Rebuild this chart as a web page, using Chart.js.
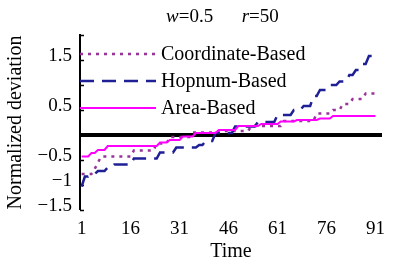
<!DOCTYPE html>
<html>
<head>
<meta charset="utf-8">
<script src="https://cdn.jsdelivr.net/npm/chart.js@4.4.1/dist/chart.umd.min.js"></script>
<style>
  html, body { margin: 0; padding: 0; background: #fff; }
</style>
</head>
<body>
<canvas id="chart" width="393" height="264"></canvas>
<script>
// ---- Data ----------------------------------------------------------------

const SERIES_LABELS = ['Coordinate-Based', 'Hopnum-Based', 'Area-Based'];

// one value per time step 1..91
const COORDINATE = [
  -0.78, -0.78, -0.78, -0.78, -0.68, -0.55, -0.43, -0.43, -0.43, -0.43,
  -0.43, -0.43, -0.43, -0.43, -0.43, -0.43, -0.31, -0.31, -0.31, -0.31,
  -0.31, -0.31, -0.31, -0.17, -0.17, -0.17, -0.17, -0.04, -0.04, -0.04,
  -0.04, -0.04, -0.04, -0.04, 0.05, 0.05, 0.05, 0.05, 0.05, 0.05,
  0.05, 0.05, 0.05, 0.05, 0.08, 0.08, 0.08, 0.08, 0.08, 0.08,
  0.08, 0.08, 0.18, 0.18, 0.18, 0.18, 0.18, 0.18, 0.18, 0.18,
  0.18, 0.18, 0.28, 0.28, 0.28, 0.28, 0.28, 0.28, 0.28, 0.28,
  0.28, 0.28, 0.43, 0.43, 0.43, 0.43, 0.43, 0.50, 0.50, 0.50,
  0.62, 0.62, 0.62, 0.72, 0.72, 0.72, 0.72, 0.83, 0.83, 0.83,
  0.83,
];

const HOPNUM = [
  -1.03, -0.83, -0.83, -0.78, -0.78, -0.72, -0.72, -0.72, -0.65, -0.65,
  -0.59, -0.59, -0.59, -0.59, -0.59, -0.59, -0.47, -0.47, -0.47, -0.47,
  -0.47, -0.47, -0.47, -0.47, -0.35, -0.35, -0.35, -0.35, -0.35, -0.25,
  -0.25, -0.25, -0.25, -0.25, -0.25, -0.25, -0.20, -0.20, -0.12, -0.12,
  -0.12, 0.04, 0.04, 0.04, 0.04, 0.04, 0.04, 0.17, 0.17, 0.17,
  0.17, 0.17, 0.17, 0.17, 0.26, 0.26, 0.26, 0.26, 0.26, 0.26,
  0.40, 0.40, 0.40, 0.40, 0.40, 0.50, 0.50, 0.50, 0.58, 0.58,
  0.58, 0.78, 0.78, 0.90, 0.90, 0.90, 1.00, 1.00, 1.00, 1.07,
  1.07, 1.07, 1.20, 1.20, 1.30, 1.30, 1.42, 1.42, 1.58, 1.58,
  1.58,
];

const AREA = [
  -0.43, -0.43, -0.43, -0.36, -0.36, -0.30, -0.30, -0.30, -0.22, -0.22,
  -0.22, -0.22, -0.22, -0.22, -0.22, -0.22, -0.22, -0.22, -0.22, -0.22,
  -0.22, -0.22, -0.22, -0.22, -0.15, -0.15, -0.15, -0.10, -0.10, -0.10,
  -0.10, -0.03, -0.03, -0.03, -0.03, 0.04, 0.04, 0.04, 0.04, 0.04,
  0.04, 0.04, 0.10, 0.10, 0.10, 0.10, 0.10, 0.10, 0.18, 0.18,
  0.18, 0.18, 0.18, 0.18, 0.18, 0.22, 0.22, 0.22, 0.22, 0.22,
  0.22, 0.27, 0.27, 0.27, 0.27, 0.27, 0.30, 0.30, 0.30, 0.30,
  0.30, 0.30, 0.30, 0.33, 0.33, 0.33, 0.33, 0.38, 0.38, 0.38,
  0.38, 0.38, 0.38, 0.38, 0.38, 0.38, 0.38, 0.38, 0.38, 0.38,
  0.38,
];

const X_TICKS = [1, 16, 31, 46, 61, 76, 91];
const Y_TICKS = [-1.5, -1, -0.5, 0, 0.5, 1, 1.5, 2];
const Y_LABELED = [1.5, 0.5, -0.5, -1, -1.5];

const SERIF = "'Liberation Serif', 'Times New Roman', serif";

// ---- Helpers ------------------------------------------------------------

function toPoints(values) {
  return values.map((v, i) => ({ x: i + 1, y: v }));
}

function near(a, b) {
  return Math.abs(a - b) < 1e-9;
}

function fmtTick(v) {
  if (!Y_LABELED.some(l => near(l, v))) return '';
  const s = Math.abs(v).toString();
  return v < 0 ? '\u2212' + s : s;
}

function isZero(c) {
  return c.tick && near(c.tick.value, 0);
}

// inward tick marks, the "w=0.5 r=50" heading and the in-plot legend
const decorations = {
  id: 'decorations',
  beforeDatasetsDraw(chart) {
    const { ctx, chartArea, scales: { y } } = chart;
    ctx.save();
    ctx.strokeStyle = '#000';
    ctx.lineWidth = 1.5;
    for (const t of y.ticks) {
      const py = Math.round(y.getPixelForValue(t.value)) + 0.5;
      ctx.beginPath();
      ctx.moveTo(chartArea.left, py);
      ctx.lineTo(chartArea.left + 4, py);
      ctx.stroke();
    }
    ctx.restore();
  },
  afterDraw(chart) {
    const { ctx, chartArea } = chart;
    ctx.save();

    // heading with italic variables
    const parts = [
      ['w', true], ['=0.5', false], ['\u2002\u2002\u2002', false], ['r', true], ['=50', false],
    ];
    let x = 166;
    ctx.fillStyle = '#000';
    ctx.textBaseline = 'middle';
    for (const [t, it] of parts) {
      ctx.font = (it ? 'italic ' : '') + '19px ' + SERIF;
      ctx.fillText(t, x, 17);
      x += ctx.measureText(t).width;
    }

    // legend
    chart.data.datasets.forEach((ds, i) => {
      const ly = chartArea.top + 19 + i * 27;
      ctx.beginPath();
      ctx.strokeStyle = ds.borderColor;
      ctx.lineWidth = ds.borderWidth;
      ctx.setLineDash(ds.borderDash || []);
      ctx.moveTo(chartArea.left, ly);
      ctx.lineTo(chartArea.left + 76, ly);
      ctx.stroke();
      ctx.setLineDash([]);
      ctx.font = '20px ' + SERIF;
      ctx.fillStyle = '#000';
      ctx.fillText(ds.label, chartArea.left + 81, ly + 1);
    });
    ctx.restore();
  },
};

// ---- Chart --------------------------------------------------------------

const ctx = document.getElementById('chart').getContext('2d');

new Chart(ctx, {
  type: 'line',
  data: {
    datasets: [
      {
        label: SERIES_LABELS[0],
        data: toPoints(COORDINATE),
        borderColor: '#993399',
        borderWidth: 2.5,
        borderDash: [3, 5],
        order: 2,
      },
      {
        label: SERIES_LABELS[1],
        data: toPoints(HOPNUM),
        borderColor: '#1f1f96',
        borderWidth: 2.5,
        borderDash: [14, 8],
        order: 1,
      },
      {
        label: SERIES_LABELS[2],
        data: toPoints(AREA),
        borderColor: '#ff00ff',
        borderWidth: 2,
        order: 0,
      },
    ],
  },
  options: {
    responsive: false,
    animation: false,
    devicePixelRatio: 1,
    elements: {
      point: { radius: 0 },
      line: { tension: 0, fill: false },
    },
    layout: { padding: { top: 35, right: 2, left: 0, bottom: 0 } },
    plugins: {
      legend: { display: false },
      tooltip: { enabled: false },
    },
    scales: {
      x: {
        type: 'linear',
        min: 0.5,
        max: 93,
        afterFit: (scale) => { scale.height = 54; },
        afterBuildTicks: (scale) => { scale.ticks = X_TICKS.map(v => ({ value: v })); },
        grid: { display: false, drawTicks: false },
        border: { display: false },
        ticks: {
          color: '#000',
          padding: 8,
          maxRotation: 0,
          autoSkip: false,
          font: { family: SERIF, size: 19 },
        },
        title: {
          display: true,
          text: 'Time',
          color: '#000',
          padding: { top: 0, bottom: 0 },
          font: { family: SERIF, size: 20 },
        },
      },
      y: {
        min: -1.5,
        max: 2,
        afterFit: (scale) => { scale.width = 80; },
        afterBuildTicks: (scale) => { scale.ticks = Y_TICKS.map(v => ({ value: v })); },
        ticks: {
          color: '#000',
          padding: 8,
          labelOffset: -4,
          autoSkip: false,
          font: { family: SERIF, size: 19 },
          callback: (v) => fmtTick(v),
        },
        grid: {
          drawTicks: false,
          color: (c) => (isZero(c) ? '#000' : 'rgba(0,0,0,0)'),
          lineWidth: (c) => (isZero(c) ? 4 : 0),
        },
        border: { display: true, color: '#000', width: 2 },
        title: {
          display: true,
          text: 'Normalized deviation',
          color: '#000',
          padding: { top: 4, bottom: 0 },
          font: { family: SERIF, size: 20 },
        },
      },
    },
  },
  plugins: [decorations],
});
</script>
</body>
</html>
